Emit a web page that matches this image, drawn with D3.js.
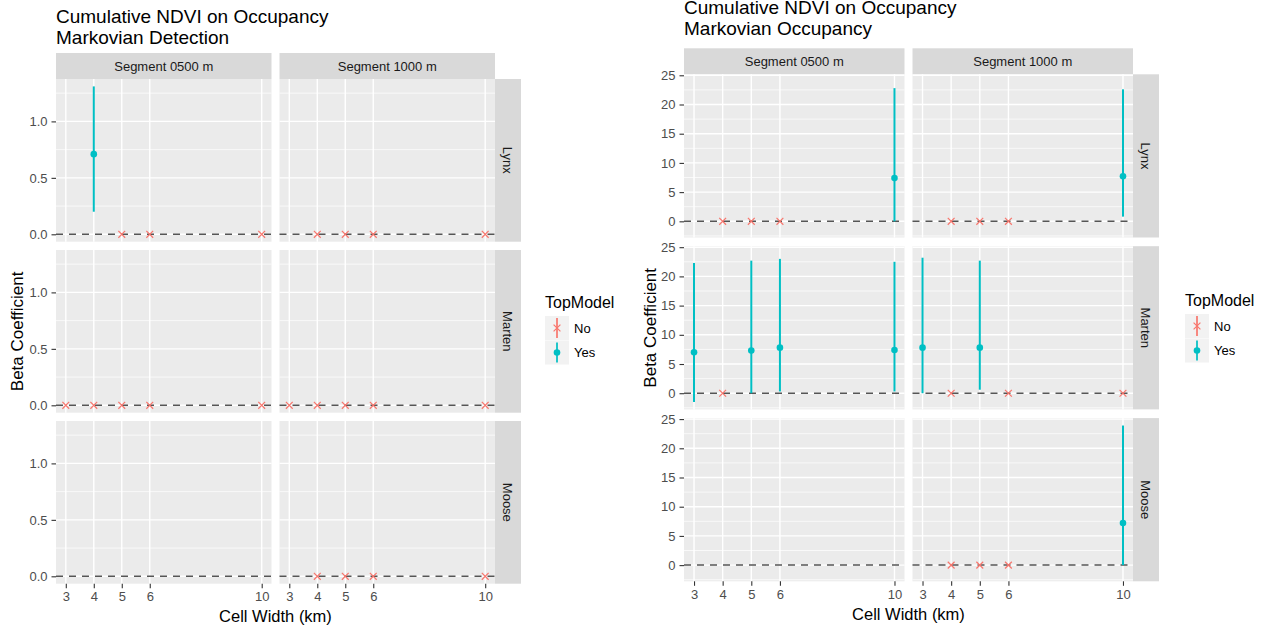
<!DOCTYPE html>
<html>
<head>
<meta charset="utf-8">
<script src="https://cdn.jsdelivr.net/npm/d3@7"></script>
<style>
  body { margin: 0; background: #fff; }
  svg { display: block; font-family: "Liberation Sans", Arial, sans-serif; }
</style>
</head>
<body>
<svg id="visualization" width="1263" height="630"></svg>
<script>
const speciesNames = ["Lynx", "Marten", "Moose"];
const segmentNames = ["0500", "1000"];
const cellWidthTicks = [3, 4, 5, 6, 10];
const topModelLevels = ["No", "Yes"];

// [species, segment, cell width, beta, lower, upper, top model]
const detectionRows = [
    ["Lynx", "0500", 4, 0.71, 0.20, 1.31, "Yes"],
    ["Lynx", "0500", 5, 0, 0, 0, "No"],
    ["Lynx", "0500", 6, 0, 0, 0, "No"],
    ["Lynx", "0500", 10, 0, 0, 0, "No"],
    ["Lynx", "1000", 4, 0, 0, 0, "No"],
    ["Lynx", "1000", 5, 0, 0, 0, "No"],
    ["Lynx", "1000", 6, 0, 0, 0, "No"],
    ["Lynx", "1000", 10, 0, 0, 0, "No"],
    ["Marten", "0500", 3, 0, 0, 0, "No"],
    ["Marten", "0500", 4, 0, 0, 0, "No"],
    ["Marten", "0500", 5, 0, 0, 0, "No"],
    ["Marten", "0500", 6, 0, 0, 0, "No"],
    ["Marten", "0500", 10, 0, 0, 0, "No"],
    ["Marten", "1000", 3, 0, 0, 0, "No"],
    ["Marten", "1000", 4, 0, 0, 0, "No"],
    ["Marten", "1000", 5, 0, 0, 0, "No"],
    ["Marten", "1000", 6, 0, 0, 0, "No"],
    ["Marten", "1000", 10, 0, 0, 0, "No"],
    ["Moose", "1000", 4, 0, 0, 0, "No"],
    ["Moose", "1000", 5, 0, 0, 0, "No"],
    ["Moose", "1000", 6, 0, 0, 0, "No"],
    ["Moose", "1000", 10, 0, 0, 0, "No"]
];

const occupancyRows = [
    ["Lynx", "0500", 4, 0, 0, 0, "No"],
    ["Lynx", "0500", 5, 0, 0, 0, "No"],
    ["Lynx", "0500", 6, 0, 0, 0, "No"],
    ["Lynx", "0500", 10, 7.4, 0, 22.8, "Yes"],
    ["Lynx", "1000", 4, 0, 0, 0, "No"],
    ["Lynx", "1000", 5, 0, 0, 0, "No"],
    ["Lynx", "1000", 6, 0, 0, 0, "No"],
    ["Lynx", "1000", 10, 7.7, 0.8, 22.6, "Yes"],
    ["Marten", "0500", 3, 7.0, -1.5, 22.3, "Yes"],
    ["Marten", "0500", 4, 0, 0, 0, "No"],
    ["Marten", "0500", 5, 7.3, 0, 22.7, "Yes"],
    ["Marten", "0500", 6, 7.8, 0.3, 23.0, "Yes"],
    ["Marten", "0500", 10, 7.4, 0.3, 22.5, "Yes"],
    ["Marten", "1000", 3, 7.8, 0, 23.2, "Yes"],
    ["Marten", "1000", 4, 0, 0, 0, "No"],
    ["Marten", "1000", 5, 7.8, 0.6, 22.7, "Yes"],
    ["Marten", "1000", 6, 0, 0, 0, "No"],
    ["Marten", "1000", 10, 0, 0, 0, "No"],
    ["Moose", "1000", 4, 0, 0, 0, "No"],
    ["Moose", "1000", 5, 0, 0, 0, "No"],
    ["Moose", "1000", 6, 0, 0, 0, "No"],
    ["Moose", "1000", 10, 7.2, 0, 23.9, "Yes"]
];

const detectionYTicks = [0, 0.5, 1.0];
const detectionYMinor = [0.25, 0.75, 1.25];
const occupancyYTicks = [0, 5, 10, 15, 20, 25];
const occupancyYMinor = [-2.5, 2.5, 7.5, 12.5, 17.5, 22.5];

const color = d3.scaleOrdinal().domain(topModelLevels).range(["#F8766D", "#00BFC4"]);
const crossPath = d3.symbol(d3.symbolTimes, 32)();

const drawChart = (opts) => {
    const svg = d3.select("#visualization");
    const chartArea = svg.append("g");

    const rows = opts.rows.map(r => ({
        species: r[0], segment: r[1], cell: r[2], beta: r[3], lower: r[4], upper: r[5], top: r[6]
    }));

    // ggplot style 5% expansion
    const xExt = d3.extent(cellWidthTicks);
    const xPad = (xExt[1] - xExt[0]) * 0.05;
    const x = d3.scaleLinear().domain([xExt[0] - xPad, xExt[1] + xPad]).range([0, opts.panelW]);

    const yLo = d3.min(rows, d => d.lower);
    const yHi = d3.max(rows, d => d.upper);
    const yPad = (yHi - yLo) * 0.05;
    const y = d3.scaleLinear().domain([yLo - yPad, yHi + yPad]).range([opts.panelH, 0]);

    const colX = i => opts.left + i * (opts.panelW + opts.gapX);
    const rowY = j => opts.top + j * (opts.panelH + opts.gapY);
    const fullW = 2 * opts.panelW + opts.gapX;
    const fullH = 3 * opts.panelH + 2 * opts.gapY;

    // title
    chartArea.append("text")
        .attr("x", opts.left)
        .attr("y", opts.titleY)
        .attr("font-size", 19)
        .attr("fill", "#000")
        .selectAll("tspan")
        .data(opts.title)
        .join("tspan")
        .attr("x", opts.left)
        .attr("dy", (d, i) => i === 0 ? 0 : 21)
        .text(d => d);

    // top strips
    segmentNames.forEach((seg, i) => {
        chartArea.append("rect")
            .attr("x", colX(i)).attr("y", opts.top - opts.strip)
            .attr("width", opts.panelW).attr("height", opts.strip)
            .attr("fill", "#d9d9d9");
        chartArea.append("text")
            .attr("x", colX(i) + opts.panelW / 2)
            .attr("y", opts.top - opts.strip / 2)
            .attr("dy", "0.35em")
            .attr("text-anchor", "middle")
            .attr("font-size", 13)
            .attr("fill", "#1a1a1a")
            .text(`Segment ${seg} m`);
    });

    // right strips
    speciesNames.forEach((sp, j) => {
        const sx = opts.left + fullW;
        chartArea.append("rect")
            .attr("x", sx).attr("y", rowY(j))
            .attr("width", opts.strip).attr("height", opts.panelH)
            .attr("fill", "#d9d9d9");
        chartArea.append("text")
            .attr("transform", `translate(${sx + opts.strip / 2}, ${rowY(j) + opts.panelH / 2}) rotate(90)`)
            .attr("dy", "0.35em")
            .attr("text-anchor", "middle")
            .attr("font-size", 13)
            .attr("fill", "#1a1a1a")
            .text(sp);
    });

    // panels
    speciesNames.forEach((sp, j) => {
        segmentNames.forEach((seg, i) => {
            const panel = chartArea.append("g")
                .attr("transform", `translate(${colX(i)}, ${rowY(j)})`);

            panel.append("rect")
                .attr("width", opts.panelW).attr("height", opts.panelH)
                .attr("fill", "#ebebeb");

            panel.selectAll("line.minor")
                .data(opts.yMinor.filter(v => v >= y.domain()[0] && v <= y.domain()[1]))
                .join("line")
                .attr("class", "minor")
                .attr("x1", 0).attr("x2", opts.panelW)
                .attr("y1", d => y(d)).attr("y2", d => y(d))
                .attr("stroke", "#fff").attr("stroke-width", 0.7);

            panel.selectAll("line.hmajor")
                .data(opts.yTicks)
                .join("line")
                .attr("class", "hmajor")
                .attr("x1", 0).attr("x2", opts.panelW)
                .attr("y1", d => y(d)).attr("y2", d => y(d))
                .attr("stroke", "#fff").attr("stroke-width", 1.4);

            panel.selectAll("line.vmajor")
                .data(cellWidthTicks)
                .join("line")
                .attr("class", "vmajor")
                .attr("x1", d => x(d)).attr("x2", d => x(d))
                .attr("y1", 0).attr("y2", opts.panelH)
                .attr("stroke", "#fff").attr("stroke-width", 1.4);

            // zero reference
            panel.append("line")
                .attr("x1", 0).attr("x2", opts.panelW)
                .attr("y1", y(0)).attr("y2", y(0))
                .attr("stroke", "#555").attr("stroke-width", 1.5)
                .attr("stroke-dasharray", "7,6");

            const cellRows = rows.filter(d => d.species === sp && d.segment === seg);

            panel.selectAll("line.range")
                .data(cellRows)
                .join("line")
                .attr("class", "range")
                .attr("x1", d => x(d.cell)).attr("x2", d => x(d.cell))
                .attr("y1", d => y(d.lower)).attr("y2", d => y(d.upper))
                .attr("stroke", d => color(d.top)).attr("stroke-width", 2);

            panel.selectAll("circle")
                .data(cellRows.filter(d => d.top === "Yes"))
                .join("circle")
                .attr("cx", d => x(d.cell)).attr("cy", d => y(d.beta))
                .attr("r", 3.3)
                .attr("fill", color("Yes"));

            panel.selectAll("path.cross")
                .data(cellRows.filter(d => d.top === "No"))
                .join("path")
                .attr("class", "cross")
                .attr("transform", d => `translate(${x(d.cell)}, ${y(d.beta)})`)
                .attr("d", crossPath)
                .attr("fill", "none")
                .attr("stroke", color("No"))
                .attr("stroke-width", 1.2);

            // y axis on first column
            if (i === 0) {
                const yAxis = chartArea.append("g")
                    .attr("transform", `translate(${colX(0)}, ${rowY(j)})`)
                    .call(d3.axisLeft(y).tickValues(opts.yTicks).tickFormat(opts.yFormat).tickSize(4.5).tickPadding(4));
                yAxis.select(".domain").remove();
                yAxis.selectAll("line").attr("stroke", "#333").attr("stroke-width", 1.1);
                yAxis.selectAll("text").attr("font-size", 13).attr("fill", "#4d4d4d")
                    .attr("font-family", "Liberation Sans, Arial, sans-serif");
            }

            // x axis on last row
            if (j === speciesNames.length - 1) {
                const xAxis = chartArea.append("g")
                    .attr("transform", `translate(${colX(i)}, ${rowY(j) + opts.panelH})`)
                    .call(d3.axisBottom(x).tickValues(cellWidthTicks).tickSize(4.5).tickPadding(3.5));
                xAxis.select(".domain").remove();
                xAxis.selectAll("line").attr("stroke", "#333").attr("stroke-width", 1.1);
                xAxis.selectAll("text").attr("font-size", 13).attr("fill", "#4d4d4d")
                    .attr("font-family", "Liberation Sans, Arial, sans-serif");
            }
        });
    });

    // axis titles
    chartArea.append("text")
        .attr("x", opts.left + fullW / 2)
        .attr("y", opts.top + fullH + 33)
        .attr("dy", "0.35em")
        .attr("text-anchor", "middle")
        .attr("font-size", 16.5)
        .text("Cell Width (km)");

    chartArea.append("text")
        .attr("transform", `translate(${opts.yTitleX}, ${opts.top + fullH / 2}) rotate(-90)`)
        .attr("dy", "0.35em")
        .attr("text-anchor", "middle")
        .attr("font-size", 17)
        .text("Beta Coefficient");

    // legend
    const legend = chartArea.append("g")
        .attr("transform", `translate(${opts.legendX}, ${opts.legendY})`);
    legend.append("text")
        .attr("y", 0)
        .attr("font-size", 16)
        .text("TopModel");
    const keys = legend.selectAll("g.key")
        .data(topModelLevels)
        .join("g")
        .attr("class", "key")
        .attr("transform", (d, k) => `translate(0, ${8 + k * 24.5})`);
    keys.append("rect")
        .attr("width", 24).attr("height", 24)
        .attr("fill", "#f2f2f2");
    keys.append("line")
        .attr("x1", 12).attr("x2", 12).attr("y1", 2).attr("y2", 22)
        .attr("stroke", d => color(d)).attr("stroke-width", 2)
        .attr("opacity", 0.85);
    keys.filter(d => d === "Yes").append("circle")
        .attr("cx", 12).attr("cy", 12).attr("r", 3.3)
        .attr("fill", color("Yes"));
    keys.filter(d => d === "No").append("path")
        .attr("transform", "translate(12, 12)")
        .attr("d", crossPath)
        .attr("fill", "none").attr("stroke", color("No")).attr("stroke-width", 1.2);
    keys.append("text")
        .attr("x", 29).attr("y", 12).attr("dy", "0.35em")
        .attr("font-size", 13)
        .text(d => d);
};

drawChart({
    rows: detectionRows,
    title: ["Cumulative NDVI on Occupancy", "Markovian Detection"],
    titleY: 22.7,
    yTicks: detectionYTicks,
    yMinor: detectionYMinor,
    yFormat: d3.format(".1f"),
    left: 56, top: 79, panelW: 215.5, panelH: 162.7, gapX: 8, gapY: 8.3, strip: 26,
    yTitleX: 17,
    legendX: 545, legendY: 308
});

drawChart({
    rows: occupancyRows,
    title: ["Cumulative NDVI on Occupancy", "Markovian Occupancy"],
    titleY: 14,
    yTicks: occupancyYTicks,
    yMinor: occupancyYMinor,
    yFormat: d3.format("d"),
    left: 684, top: 74.3, panelW: 220.5, panelH: 163.2, gapX: 8, gapY: 8.7, strip: 26,
    yTitleX: 650,
    legendX: 1185, legendY: 306
});
</script>
</body>
</html>
